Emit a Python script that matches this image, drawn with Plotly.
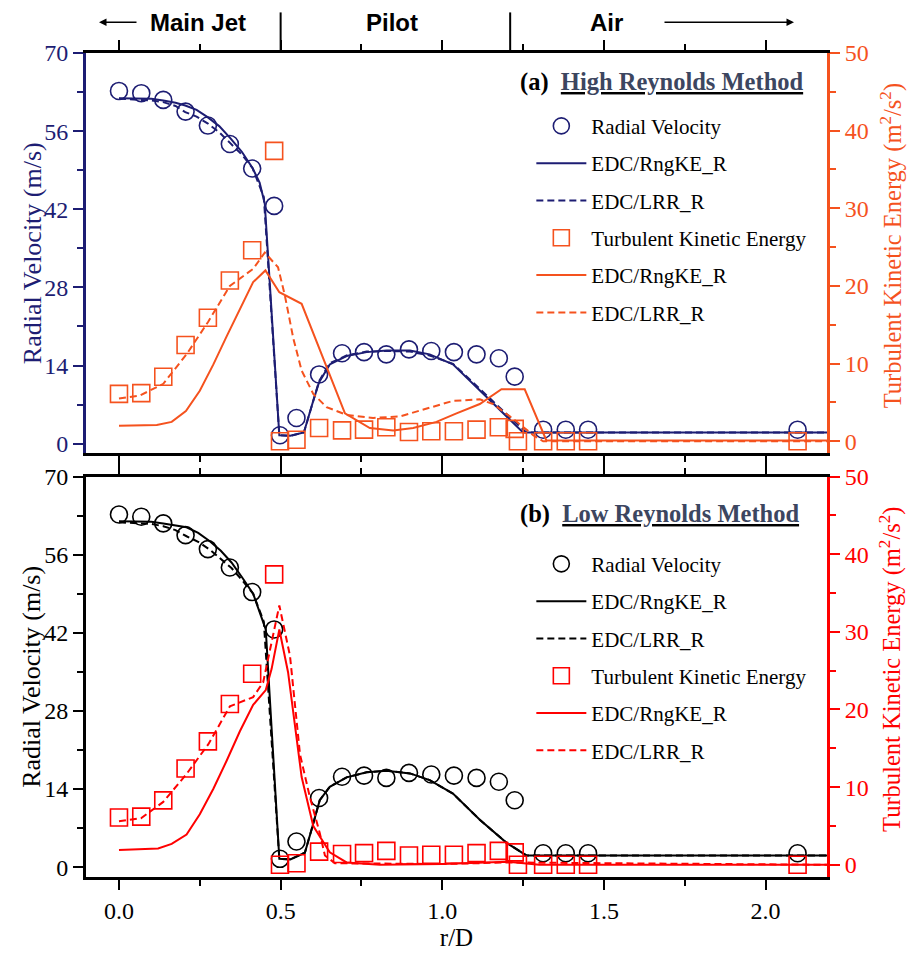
import plotly.graph_objects as go

# ---------------- data ----------------
r_vel_exp = [0.0, 0.069, 0.137, 0.206, 0.275, 0.343, 0.412, 0.48, 0.498, 0.549, 0.619, 0.690,
             0.758, 0.827, 0.897, 0.966, 1.036, 1.106, 1.175, 1.224, 1.312, 1.382, 1.451, 2.099]
vel_exp = [63.2, 62.8, 61.6, 59.5, 57.0, 53.7, 49.3, 42.6, 1.5, 4.6, 12.4, 16.2,
           16.4, 16.0, 16.9, 16.6, 16.4, 16.0, 15.3, 12.0, 2.5, 2.5, 2.5, 2.5]

r_tke_exp = [0.0, 0.069, 0.137, 0.206, 0.275, 0.343, 0.412, 0.48, 0.498, 0.549, 0.619, 0.690,
             0.758, 0.827, 0.897, 0.966, 1.036, 1.106, 1.175, 1.224, 1.234, 1.312, 1.382, 1.451, 2.099]
tke_exp = [6.1, 6.2, 8.3, 12.4, 15.9, 20.7, 24.6, 37.4, 0.0, 0.2, 1.7, 1.4,
           1.5, 1.8, 1.2, 1.3, 1.3, 1.5, 1.8, 1.6, 0.0, 0.0, 0.0, 0.0, 0.0]

# (a) High Reynolds method
r_a_rng_v = [0, 0.05, 0.10, 0.137, 0.175, 0.205, 0.24, 0.274, 0.31, 0.345, 0.38, 0.413, 0.435, 0.451,
             0.496, 0.53, 0.572, 0.6, 0.619, 0.652, 0.704, 0.766, 0.828, 0.9, 0.961, 1.033, 1.116,
             1.168, 1.219, 1.25, 1.4, 2.2]
a_rng_v = [61.9, 61.9, 61.8, 61.5, 61.1, 60.6, 59.8, 58.5, 56.9, 54.7, 52.3, 49.4, 46.8, 43.0,
           1.5, 1.4, 2.0, 7.5, 11.0, 14.2, 15.7, 16.4, 16.7, 16.7, 16.0, 14.2, 9.5,
           6.6, 3.7, 2.0, 2.0, 2.0]
r_a_lrr_v = [0, 0.05, 0.10, 0.137, 0.175, 0.205, 0.24, 0.274, 0.31, 0.345, 0.38, 0.413, 0.448,
             0.496, 0.53, 0.572, 0.6, 0.619, 0.652, 0.704, 0.766, 0.828, 0.9, 0.961, 1.033, 1.116,
             1.168, 1.219, 1.26, 1.4, 2.2]
a_lrr_v = [61.8, 61.7, 61.5, 61.2, 60.5, 59.4, 58.6, 57.4, 55.8, 53.8, 51.8, 49.4, 44.2,
           1.5, 1.4, 2.0, 7.6, 11.2, 14.4, 15.8, 16.5, 16.6, 16.5, 15.8, 14.3, 9.8,
           7.0, 4.2, 2.0, 2.0, 2.0]
r_a_rng_k = [0, 0.117, 0.163, 0.207, 0.25, 0.292, 0.333, 0.374, 0.415, 0.453, 0.496, 0.565, 0.652,
             0.699, 0.776, 0.848, 0.91, 0.982, 1.044, 1.116, 1.183, 1.255, 1.322, 2.2]
a_rng_k = [2.0, 2.1, 2.5, 3.9, 6.5, 9.9, 13.5, 17.1, 20.5, 22.0, 19.2, 17.7, 8.6,
           3.6, 1.7, 1.4, 1.7, 2.5, 3.6, 4.8, 6.7, 6.7, 0.1, 0.1]
r_a_lrr_k = [0, 0.065, 0.137, 0.209, 0.276, 0.343, 0.415, 0.451, 0.492, 0.513, 0.539, 0.565, 0.601,
             0.642, 0.704, 0.786, 0.869, 0.951, 1.033, 1.116, 1.157, 1.219, 1.281, 1.312, 2.2]
a_lrr_k = [5.5, 5.9, 7.4, 11.2, 15.4, 20.0, 22.2, 24.3, 22.4, 18.8, 13.3, 9.1, 6.1,
           4.4, 3.4, 3.0, 3.2, 4.2, 5.2, 5.4, 4.8, 2.9, 0.8, 0.0, 0.0]

# (b) Low Reynolds method
r_b_rng_v = [0, 0.05, 0.10, 0.137, 0.175, 0.209, 0.245, 0.281, 0.315, 0.348, 0.38, 0.415, 0.454,
             0.496, 0.53, 0.575, 0.596, 0.621, 0.652, 0.704, 0.766, 0.828, 0.9, 0.961, 1.033, 1.116,
             1.198, 1.26, 1.4, 2.2]
b_rng_v = [62.0, 62.0, 61.9, 61.6, 61.3, 60.9, 59.9, 58.4, 56.7, 54.6, 52.0, 49.0, 42.6,
           1.5, 1.4, 2.6, 6.8, 12.0, 14.4, 16.1, 17.0, 17.3, 16.8, 15.6, 13.2, 8.5,
           4.4, 2.1, 2.1, 2.1]
r_b_lrr_v = [0, 0.05, 0.10, 0.137, 0.175, 0.209, 0.245, 0.281, 0.315, 0.348, 0.38, 0.415, 0.448,
             0.496, 0.53, 0.575, 0.596, 0.621, 0.652, 0.704, 0.766, 0.828, 0.9, 0.961, 1.033, 1.116,
             1.198, 1.26, 1.4, 2.2]
b_lrr_v = [61.8, 61.7, 61.5, 61.1, 60.4, 59.3, 58.3, 56.9, 55.2, 53.6, 51.5, 49.0, 44.0,
           1.5, 1.4, 2.6, 6.8, 12.0, 14.4, 16.1, 17.0, 17.3, 16.8, 15.6, 13.2, 8.5,
           4.4, 2.1, 2.1, 2.1]
r_b_rng_k = [0, 0.121, 0.163, 0.209, 0.25, 0.292, 0.333, 0.374, 0.415, 0.454, 0.472, 0.496, 0.523,
             0.565, 0.601, 0.652, 0.704, 0.807, 1.0, 1.2, 1.3, 2.2]
b_rng_k = [1.9, 2.1, 2.7, 3.9, 6.5, 9.8, 13.4, 17.2, 20.6, 22.5, 25.2, 30.3, 24.8,
           11.3, 5.0, 1.6, 0.3, 0.0, 0.1, 0.4, 0.0, 0.0]
r_b_lrr_k = [0, 0.068, 0.137, 0.209, 0.276, 0.343, 0.415, 0.446, 0.496, 0.529, 0.56, 0.59, 0.621,
             0.637, 0.668, 1.0, 1.2, 2.2]
b_lrr_k = [5.6, 6.0, 8.1, 11.7, 15.5, 20.4, 21.6, 23.5, 33.4, 26.9, 14.2, 8.8, 4.1,
           1.2, 0.2, 0.1, 0.3, 0.0]

x_ticks = [0.0, 0.5, 1.0, 1.5, 2.0]
x_ticklabels = ["0.0", "0.5", "1.0", "1.5", "2.0"]
vel_ticks = [0, 14, 28, 42, 56, 70]
tke_ticks = [0, 10, 20, 30, 40, 50]
names = ["Radial Velocity", "EDC/RngKE_R", "EDC/LRR_R",
         "Turbulent Kinetic Energy", "EDC/RngKE_R", "EDC/LRR_R"]

# ---------------- styles ----------------
NAVY = "#1d1d73"
ORANGE = "#f5521e"
BLACK = "#000000"
RED = "#ff0000"
FONT = "Liberation Serif"
DASH = "7px,4px"

fig = go.Figure()


def add_panel(vcol, kcol, ya_v, ya_k, xa, leg, tag, curves):
    (rv1, v1, rv2, v2, rk1, k1, rk2, k2) = curves
    common = dict(xaxis=xa, legend=leg)
    fig.add_trace(go.Scatter(x=r_vel_exp, y=vel_exp, mode="markers", name=names[0],
                             marker=dict(symbol="circle-open", size=17, color=vcol, line=dict(width=1.6)),
                             yaxis=ya_v, legendgroup=tag + "1", **common))
    fig.add_trace(go.Scatter(x=rv1, y=v1, mode="lines", name=names[1],
                             line=dict(color=vcol, width=2), yaxis=ya_v, legendgroup=tag + "2", **common))
    fig.add_trace(go.Scatter(x=rv2, y=v2, mode="lines", name=names[2],
                             line=dict(color=vcol, width=2, dash=DASH), yaxis=ya_v,
                             legendgroup=tag + "3", **common))
    fig.add_trace(go.Scatter(x=r_tke_exp, y=tke_exp, mode="markers", name=names[3],
                             marker=dict(symbol="square-open", size=17, color=kcol, line=dict(width=1.6)),
                             yaxis=ya_k, legendgroup=tag + "4", **common))
    fig.add_trace(go.Scatter(x=rk1, y=k1, mode="lines", name=names[4],
                             line=dict(color=kcol, width=2), yaxis=ya_k, legendgroup=tag + "5", **common))
    fig.add_trace(go.Scatter(x=rk2, y=k2, mode="lines", name=names[5],
                             line=dict(color=kcol, width=2, dash=DASH), yaxis=ya_k,
                             legendgroup=tag + "6", **common))


add_panel(NAVY, ORANGE, "y", "y2", "x", "legend", "a",
          (r_a_rng_v, a_rng_v, r_a_lrr_v, a_lrr_v, r_a_rng_k, a_rng_k, r_a_lrr_k, a_lrr_k))
add_panel(BLACK, RED, "y3", "y4", "x2", "legend2", "b",
          (r_b_rng_v, b_rng_v, r_b_lrr_v, b_lrr_v, r_b_rng_k, b_rng_k, r_b_lrr_k, b_lrr_k))

XR = [-0.102, 2.19]
VR = [-1.76, 70]
KR = [-1.57, 50]


def xaxis(anchor, labels):
    return dict(range=XR, anchor=anchor, domain=[0, 1], showline=True, linecolor="black", linewidth=3,
                mirror="ticks", ticks="outside", ticklen=10, tickwidth=2, tickcolor="black",
                tickvals=x_ticks, ticktext=x_ticklabels, showticklabels=labels, showgrid=False,
                zeroline=False, tickfont=dict(family=FONT, size=24, color="black"),
                minor=dict(dtick=0.25, tick0=0, ticks="outside", ticklen=6, tickwidth=2, tickcolor="black"))


def vaxis(dom, col, anchor):
    return dict(range=VR, domain=dom, anchor=anchor, showline=True, linecolor=col, linewidth=3,
                ticks="outside", ticklen=10, tickwidth=2, tickcolor=col, tickvals=vel_ticks,
                showgrid=False, zeroline=False, tickfont=dict(family=FONT, size=24, color=col),
                minor=dict(dtick=7, tick0=0, ticks="outside", ticklen=6, tickwidth=2, tickcolor=col))


def kaxis(over, col, anchor):
    return dict(range=KR, overlaying=over, anchor=anchor, side="right", showline=True, linecolor=col,
                linewidth=3, ticks="outside", ticklen=10, tickwidth=2, tickcolor=col, tickvals=tke_ticks,
                showgrid=False, zeroline=False, tickfont=dict(family=FONT, size=24, color=col),
                minor=dict(dtick=5, tick0=0, ticks="outside", ticklen=6, tickwidth=2, tickcolor=col))


legstyle = dict(font=dict(family=FONT, size=21, color="black"), bgcolor="rgba(0,0,0,0)",
                tracegroupgap=7, itemwidth=50, xanchor="left", yanchor="top", borderwidth=0)

fig.update_layout(
    width=907, height=959, margin=dict(l=86, r=80, t=53, b=67),
    plot_bgcolor="white", paper_bgcolor="white",
    xaxis=xaxis("y", False),
    xaxis2=xaxis("y3", True),
    yaxis=vaxis([0.514, 1.0], NAVY, "x"),
    yaxis2=kaxis("y", ORANGE, "x"),
    yaxis3=vaxis([0.0, 0.486], BLACK, "x2"),
    yaxis4=kaxis("y3", RED, "x2"),
    legend=dict(x=0.601, y=0.936, **legstyle),
    legend2=dict(x=0.601, y=0.4045, **legstyle),
    showlegend=True,
)
fig.update_layout(xaxis2=dict(title=dict(text="r/D", font=dict(family=FONT, size=25, color="black"), standoff=6)))

# axis titles
for (ymid, col) in [((891.7 - 257) / 838.4, NAVY), ((891.7 - 688) / 838.4, BLACK)]:
    fig.add_annotation(x=(32 - 86) / 741, y=ymid, xref="paper", yref="paper", textangle=-90,
                       text="Radial Velocity (m/s)", showarrow=False, xanchor="center", yanchor="middle",
                       font=dict(family=FONT, size=26, color=col))
for (ymid, col) in [((891.7 - 250) / 838.4, ORANGE), ((891.7 - 681) / 838.4, RED)]:
    fig.add_annotation(x=(891 - 86) / 741, y=ymid, xref="paper", yref="paper", textangle=-90,
                       text="Turbulent Kinetic Energy (m<sup>2</sup>/s<sup>2</sup>)", showarrow=False,
                       xanchor="center", yanchor="middle", font=dict(family=FONT, size=24.5, color=col))

# panel titles
fig.add_annotation(x=0.583, y=(891.7 - 83) / 838.4, xref="paper", yref="paper", xanchor="left", yanchor="middle",
                   showarrow=False,
                   text="<b>(a)</b>  <b><u><span style='color:#3c4660'>High Reynolds Method</span></u></b>",
                   font=dict(family=FONT, size=24.5, color="black"))
fig.add_annotation(x=0.583, y=(891.7 - 522) / 838.4, xref="paper", yref="paper", xanchor="left", yanchor="middle",
                   showarrow=False,
                   text="<b>(b)</b>  <b><u><span style='color:#3c4660'>Low Reynolds Method</span></u></b>",
                   font=dict(family=FONT, size=24.5, color="black"))

# header region labels
HF = dict(family="Liberation Sans Narrow, Liberation Sans, Arial", size=24, color="black")
yh = (891.7 - 22) / 838.4
for txt, xp in [("<b>Main Jet</b>", 198), ("<b>Pilot</b>", 392), ("<b>Air</b>", 606)]:
    fig.add_annotation(x=(xp - 86) / 741, y=yh, xref="paper", yref="paper", text=txt, showarrow=False,
                       font=HF, xanchor="center", yanchor="middle")
fig.add_annotation(x=(99 - 86) / 741, y=yh, xref="paper", yref="paper", text="", showarrow=True,
                   ax=39, ay=0, arrowhead=2, arrowsize=1, arrowwidth=1.5, arrowcolor="black")
fig.add_annotation(x=(794 - 86) / 741, y=yh, xref="paper", yref="paper", text="", showarrow=True,
                   ax=-131, ay=0, arrowhead=2, arrowsize=1, arrowwidth=1.5, arrowcolor="black")
for xd in [0.5, 1.21]:
    fig.add_shape(type="line", xref="x", yref="paper", x0=xd, x1=xd, y0=1.0, y1=(891.7 - 12) / 838.4,
                  line=dict(color="black", width=2))

fig.write_html("out.html")
